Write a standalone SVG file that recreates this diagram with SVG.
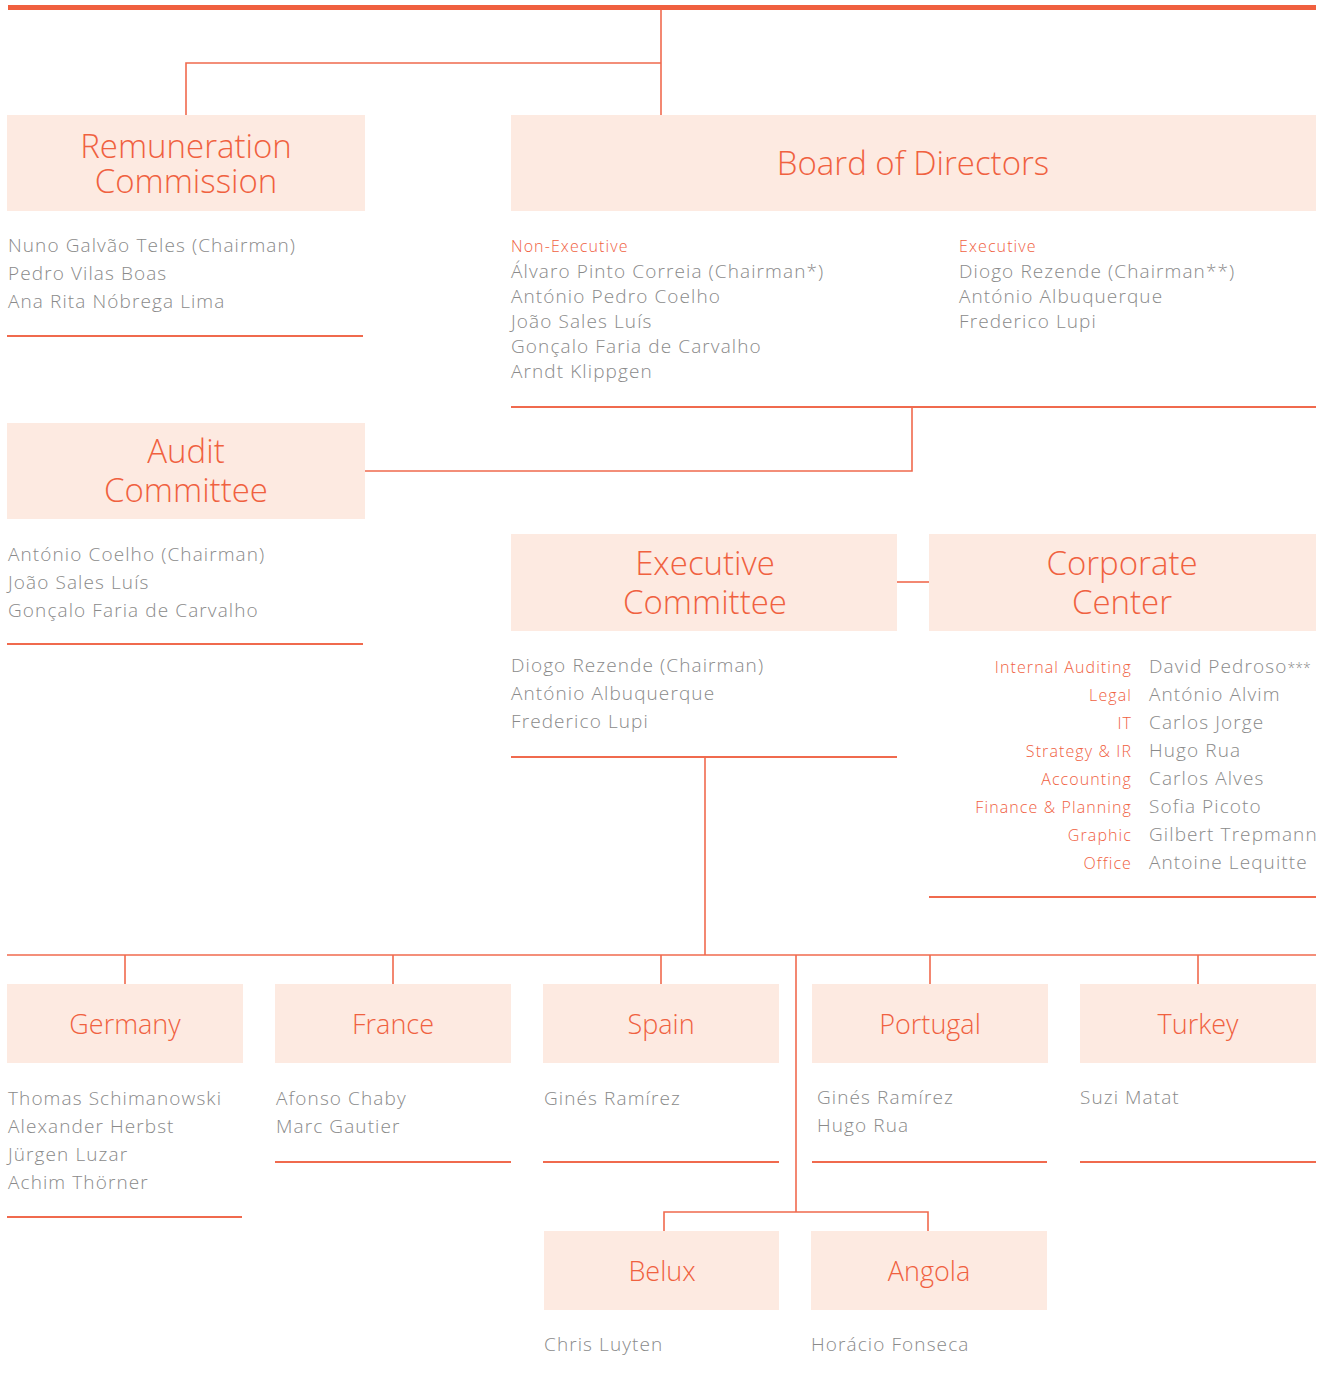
<svg xmlns="http://www.w3.org/2000/svg" width="1319" height="1375" viewBox="0 0 1319 1375">
<style>
.box{fill:#FDEAE1}
.t{font-family:"Open Sans","Liberation Sans",sans-serif;font-weight:300;fill:#F0613F;text-anchor:middle}
.t1{font-size:33px}
.t2{font-size:27px}
.m{font-family:"Open Sans","Liberation Sans",sans-serif;font-weight:300;font-size:19px;fill:#8a8a8a;letter-spacing:1.1px}
.l{font-family:"Open Sans","Liberation Sans",sans-serif;font-weight:300;font-size:16px;fill:#F0613F;letter-spacing:1.1px}
.r{text-anchor:end}
.c{stroke:#F06A4E;stroke-width:1.6;fill:none}
.sep{stroke:#F06A4E;stroke-width:1.8}
</style>
<rect x="8" y="5" width="1308" height="5" fill="#F0603F"/>
<g id="connectors" class="c">
<path d="M661 10V115"/>
<path d="M186 115V63H661"/>
<path d="M912 407V471H365"/>
<path d="M897 582H929"/>
<path d="M705 757V955"/>
<path d="M7 955H1316"/>
<path d="M125 955V984M393 955V984M661 955V984M930 955V984M1198 955V984"/>
<path d="M796 955V1212"/>
<path d="M664 1231V1212H928V1231"/>
</g>
<g id="remuneration">
<rect class="box" x="7" y="115" width="358" height="96"/>
<text class="t t1" x="186" y="158">Remuneration</text>
<text class="t t1" x="186" y="193">Commission</text>
<text class="m" x="8" y="252">Nuno Galvão Teles (Chairman)</text>
<text class="m" x="8" y="280">Pedro Vilas Boas</text>
<text class="m" x="8" y="308">Ana Rita Nóbrega Lima</text>
<line class="sep" x1="7" y1="336" x2="363" y2="336"/>
</g>
<g id="board">
<rect class="box" x="511" y="115" width="805" height="96"/>
<text class="t t1" x="913" y="175">Board of Directors</text>
<text class="l" x="511" y="252">Non-Executive</text>
<text class="m" x="511" y="278">Álvaro Pinto Correia (Chairman*)</text>
<text class="m" x="511" y="303">António Pedro Coelho</text>
<text class="m" x="511" y="328">João Sales Luís</text>
<text class="m" x="511" y="353">Gonçalo Faria de Carvalho</text>
<text class="m" x="511" y="378">Arndt Klippgen</text>
<text class="l" x="959" y="252">Executive</text>
<text class="m" x="959" y="278">Diogo Rezende (Chairman**)</text>
<text class="m" x="959" y="303">António Albuquerque</text>
<text class="m" x="959" y="328">Frederico Lupi</text>
<line class="sep" x1="511" y1="407" x2="1316" y2="407"/>
</g>
<g id="audit">
<rect class="box" x="7" y="423" width="358" height="96"/>
<text class="t t1" x="186" y="463">Audit</text>
<text class="t t1" x="186" y="502">Committee</text>
<text class="m" x="8" y="561">António Coelho (Chairman)</text>
<text class="m" x="8" y="589">João Sales Luís</text>
<text class="m" x="8" y="617">Gonçalo Faria de Carvalho</text>
<line class="sep" x1="7" y1="644" x2="363" y2="644"/>
</g>
<g id="executive">
<rect class="box" x="511" y="534" width="386" height="97"/>
<text class="t t1" x="705" y="575">Executive</text>
<text class="t t1" x="705" y="614">Committee</text>
<text class="m" x="511" y="672">Diogo Rezende (Chairman)</text>
<text class="m" x="511" y="700">António Albuquerque</text>
<text class="m" x="511" y="728">Frederico Lupi</text>
<line class="sep" x1="511" y1="757" x2="897" y2="757"/>
</g>
<g id="corporate">
<rect class="box" x="929" y="534" width="387" height="97"/>
<text class="t t1" x="1122" y="575">Corporate</text>
<text class="t t1" x="1122" y="614">Center</text>
<text class="l r" x="1132" y="673">Internal Auditing</text>
<text class="l r" x="1132" y="701">Legal</text>
<text class="l r" x="1132" y="729">IT</text>
<text class="l r" x="1132" y="757">Strategy &amp; IR</text>
<text class="l r" x="1132" y="785">Accounting</text>
<text class="l r" x="1132" y="813">Finance &amp; Planning</text>
<text class="l r" x="1132" y="841">Graphic</text>
<text class="l r" x="1132" y="869">Office</text>
<text class="m" x="1149" y="673">David Pedroso<tspan font-size="14" letter-spacing="0">***</tspan></text>
<text class="m" x="1149" y="701">António Alvim</text>
<text class="m" x="1149" y="729">Carlos Jorge</text>
<text class="m" x="1149" y="757">Hugo Rua</text>
<text class="m" x="1149" y="785">Carlos Alves</text>
<text class="m" x="1149" y="813">Sofia Picoto</text>
<text class="m" x="1149" y="841">Gilbert Trepmann</text>
<text class="m" x="1149" y="869">Antoine Lequitte</text>
<line class="sep" x1="929" y1="897" x2="1316" y2="897"/>
</g>
<g id="germany">
<rect class="box" x="7" y="984" width="236" height="79"/>
<text class="t t2" x="125" y="1034">Germany</text>
<text class="m" x="8" y="1105">Thomas Schimanowski</text>
<text class="m" x="8" y="1133">Alexander Herbst</text>
<text class="m" x="8" y="1161">Jürgen Luzar</text>
<text class="m" x="8" y="1189">Achim Thörner</text>
<line class="sep" x1="7" y1="1217" x2="242" y2="1217"/>
</g>
<g id="france">
<rect class="box" x="275" y="984" width="236" height="79"/>
<text class="t t2" x="393" y="1034">France</text>
<text class="m" x="276" y="1105">Afonso Chaby</text>
<text class="m" x="276" y="1133">Marc Gautier</text>
<line class="sep" x1="275" y1="1162" x2="511" y2="1162"/>
</g>
<g id="spain">
<rect class="box" x="543" y="984" width="236" height="79"/>
<text class="t t2" x="661" y="1034">Spain</text>
<text class="m" x="544" y="1105">Ginés Ramírez</text>
<line class="sep" x1="543" y1="1162" x2="779" y2="1162"/>
</g>
<g id="portugal">
<rect class="box" x="812" y="984" width="236" height="79"/>
<text class="t t2" x="930" y="1034">Portugal</text>
<text class="m" x="817" y="1104">Ginés Ramírez</text>
<text class="m" x="817" y="1132">Hugo Rua</text>
<line class="sep" x1="812" y1="1162" x2="1047" y2="1162"/>
</g>
<g id="turkey">
<rect class="box" x="1080" y="984" width="236" height="79"/>
<text class="t t2" x="1198" y="1034">Turkey</text>
<text class="m" x="1080" y="1104">Suzi Matat</text>
<line class="sep" x1="1080" y1="1162" x2="1316" y2="1162"/>
</g>
<g id="belux">
<rect class="box" x="544" y="1231" width="235" height="79"/>
<text class="t t2" x="662" y="1281">Belux</text>
<text class="m" x="544" y="1351">Chris Luyten</text>
</g>
<g id="angola">
<rect class="box" x="811" y="1231" width="236" height="79"/>
<text class="t t2" x="929" y="1281">Angola</text>
<text class="m" x="811" y="1351">Horácio Fonseca</text>
</g>
</svg>
